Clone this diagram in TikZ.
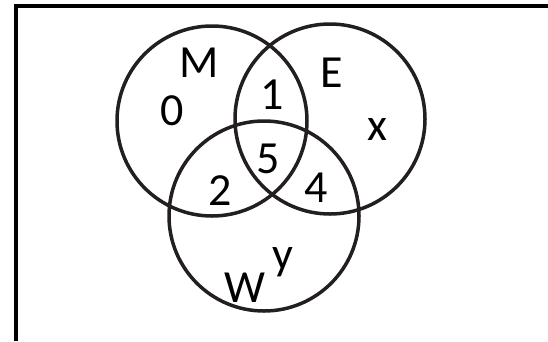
\documentclass[tikz,border=0pt]{standalone}
\usepackage{fontspec}
\setmainfont{Carlito}
\usepackage{tikz}
\definecolor{ink}{HTML}{231F20}

\begin{document}
\begin{tikzpicture}[x=1pt, y=-1pt,
  every node/.style={inner sep=0pt, anchor=base, font=\fontsize{46}{55}\selectfont},
  every path/.style={line width=3.5pt},
]
\tikzset{setcircle/.style={circle, draw=ink, line width=3.5pt, minimum size=190pt, anchor=center}}

  \useasboundingbox (0,0) rectangle (548,341);

  % Frame
  \coordinate (tl) at (16,6);
  \coordinate (tr) at (548,6);
  \coordinate (bl) at (16,341);
  \draw (tr) -- (tl) -- (bl);

  % Sets
  \node[setcircle] (setM) at (212,121) {};
  \node[setcircle] (setE) at (330,119) {};
  \node[setcircle] (setW) at (264,216) {};

  % Labels
  \node (M) at (199,77)  {M};
  \node (E) at (332,87)  {E};
  \node (W) at (245,302) {W};
  \node (n0) at (172,125) {0};
  \node (n1) at (272,109) {1};
  \node (n5) at (268,173) {5};
  \node (n2) at (220,205) {2};
  \node (n4) at (316,202) {4};
  \node (x) at (377,140) {x};
  \node (y) at (283,269) {y};

\end{tikzpicture}
\end{document}
